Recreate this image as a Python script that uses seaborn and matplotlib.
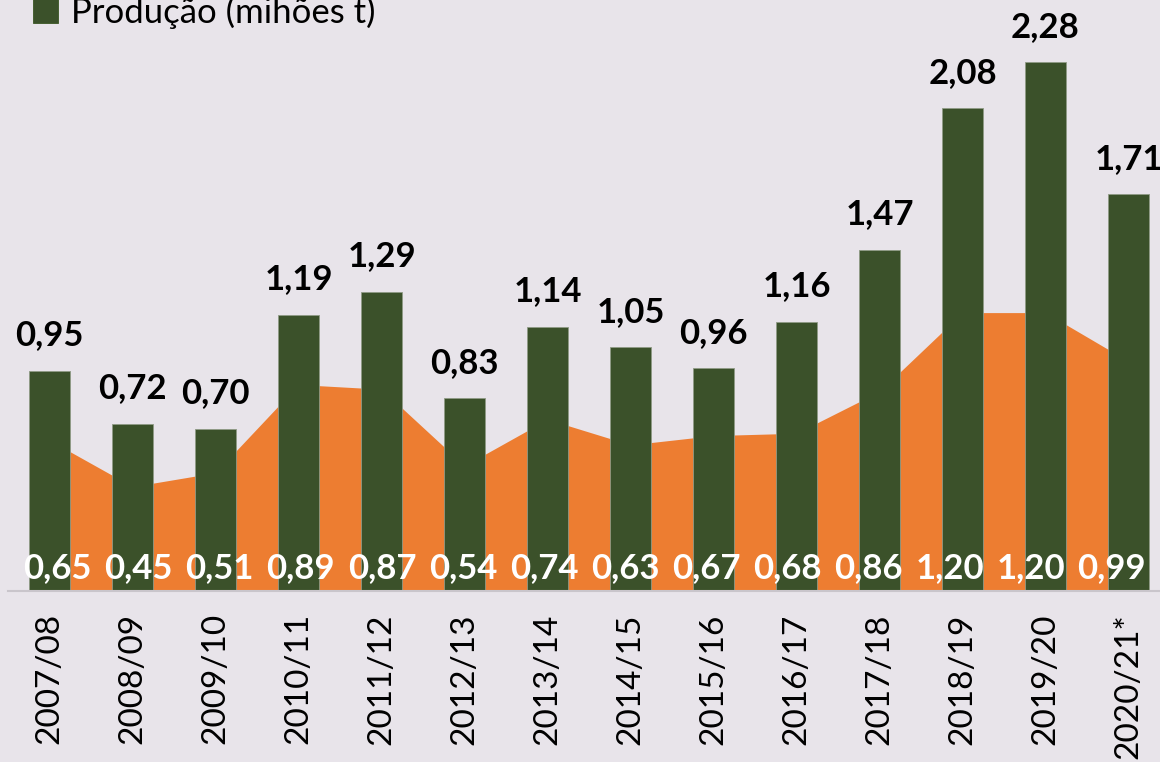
import numpy as np
import pandas as pd
import matplotlib
matplotlib.use('Agg')
from matplotlib import pyplot as plt
import seaborn as sns

# data
safras = ['2007/08', '2008/09', '2009/10', '2010/11', '2011/12', '2012/13', '2013/14',
          '2014/15', '2015/16', '2016/17', '2017/18', '2018/19', '2019/20', '2020/21*']
producao = [0.95, 0.72, 0.70, 1.19, 1.29, 0.83, 1.14, 1.05, 0.96, 1.16, 1.47, 2.08, 2.28, 1.71]
area_serie = [0.65, 0.45, 0.51, 0.89, 0.87, 0.54, 0.74, 0.63, 0.67, 0.68, 0.86, 1.20, 1.20, 0.99]
legend_label = 'Produção (mihões t)'

green = '#3A5724'
orange = '#ED7D31'
bg = '#E8E4EA'

sns.set_style('white')
plt.rcParams['font.family'] = ['Lato', 'DejaVu Sans']

df = pd.DataFrame({'safra': safras, 'producao': producao, 'area': area_serie})

fig = plt.figure(figsize=(11.6, 7.62), dpi=100, facecolor=bg)
# plot area runs past the right edge of the picture, as in the reference
ax = fig.add_axes([8 / 1160, 171 / 762, 1162 / 1160, 591 / 762])
ax.set_facecolor(bg)

x = np.arange(len(safras))
ax.fill_between(x, 0, df['area'], color=orange, linewidth=0, zorder=1)
sns.barplot(data=df, x='safra', y='producao', color=green, width=0.5, ax=ax,
            edgecolor='#8f9a86', linewidth=0.6, zorder=2, label=legend_label)

ax.set_xlim(-0.5, len(safras) - 0.5)
ax.set_ylim(0, 591 / 232.0)

# labels above bars
for i, v in enumerate(producao):
    ax.annotate('{:.2f}'.format(v).replace('.', ','), (i, v), xytext=(0, 14),
                textcoords='offset points', ha='center', va='bottom',
                fontsize=25, fontweight='bold', color='black', zorder=5)

# labels of the area series near the baseline (drift left towards the right edge)
for i, v in enumerate(area_serie):
    dx = (8 - 1.9 * i) / 83.0
    ax.text(i + dx, 0.10, '{:.2f}'.format(v).replace('.', ','), ha='center', va='center',
            fontsize=25, fontweight='bold', color='white', zorder=5)

for s in ['top', 'right', 'left']:
    ax.spines[s].set_visible(False)
ax.spines['bottom'].set_color('#C9C5CB')
ax.spines['bottom'].set_linewidth(1.5)
ax.set_yticks([])
ax.set_xlabel('')
ax.set_ylabel('')
ax.set_xticks(x)
ax.set_xticklabels(safras, rotation=90, fontsize=24, color='black')
ax.tick_params(axis='x', which='major', length=0, pad=16)
ax.set_xticks(np.arange(-0.5, len(safras), 1), minor=True)
ax.tick_params(axis='x', which='minor', length=12, width=1.5, color='#C9C5CB')

leg = ax.legend(loc='center left', bbox_to_anchor=(33 / 1160, 1 - 12 / 762),
                bbox_transform=fig.transFigure, frameon=False, fontsize=25,
                handlelength=0.72, handleheight=0.72, handletextpad=0.38,
                borderpad=0, borderaxespad=0, labelcolor='black')
for h in leg.legend_handles:
    h.set_edgecolor(green)

fig.savefig('out.png', dpi=100, facecolor=bg)
